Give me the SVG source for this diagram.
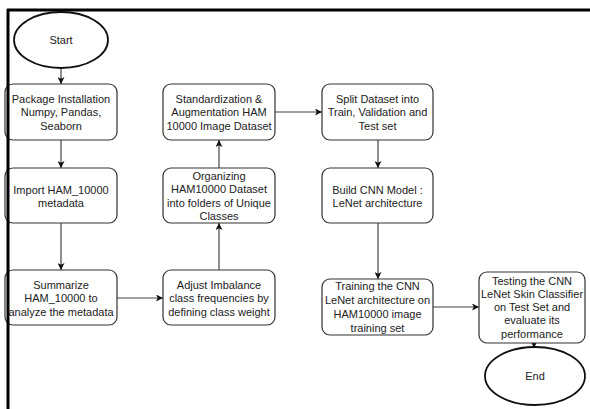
<svg xmlns="http://www.w3.org/2000/svg" width="590" height="409" viewBox="0 0 590 409">
<defs>
<style>
.box{fill:#fff;stroke:#333;stroke-width:1.2}
.term{fill:#fff;stroke:#111;stroke-width:1.8}
.t{font-family:"Liberation Sans",Arial,sans-serif;font-size:11px;fill:#222;text-anchor:middle}
.c{fill:none;stroke:#444;stroke-width:1.2}
</style>
<marker id="ah" viewBox="0 0 8 8" refX="8" refY="4" markerWidth="7" markerHeight="7" markerUnits="userSpaceOnUse" orient="auto">
<path d="M0,0 L8,4 L0,8 L2,4 Z" fill="#111"/>
</marker>
</defs>
<rect width="590" height="409" fill="#fff"/>
<g id="connectors">
<line class="c" x1="61" y1="68" x2="61" y2="84" marker-end="url(#ah)"/>
<line class="c" x1="61" y1="140" x2="61" y2="168" marker-end="url(#ah)"/>
<line class="c" x1="61" y1="223" x2="61" y2="270" marker-end="url(#ah)"/>
<line class="c" x1="117" y1="298" x2="163" y2="298" marker-end="url(#ah)"/>
<line class="c" x1="219" y1="270" x2="219" y2="223" marker-end="url(#ah)"/>
<line class="c" x1="219" y1="168" x2="219" y2="140" marker-end="url(#ah)"/>
<line class="c" x1="275" y1="112" x2="322" y2="112" marker-end="url(#ah)"/>
<line class="c" x1="378" y1="140" x2="378" y2="168" marker-end="url(#ah)"/>
<line class="c" x1="378" y1="223" x2="378" y2="279" marker-end="url(#ah)"/>
<line class="c" x1="433" y1="307" x2="479" y2="307" marker-end="url(#ah)"/>
<line class="c" x1="534" y1="343" x2="534" y2="348" marker-end="url(#ah)"/>
</g>
<g id="start">
<ellipse class="term" cx="61" cy="40" rx="47" ry="28"/>
<text class="t" x="61" y="44">Start</text>
</g>
<g id="package">
<rect class="box" x="5" y="84" width="112" height="56" rx="8"/>
<text class="t" x="61" y="103">Package Installation</text>
<text class="t" x="61" y="116">Numpy, Pandas,</text>
<text class="t" x="61" y="130">Seaborn</text>
</g>
<g id="import">
<rect class="box" x="5" y="168" width="112" height="55" rx="8"/>
<text class="t" x="61" y="194">Import HAM_10000</text>
<text class="t" x="61" y="207">metadata</text>
</g>
<g id="summarize">
<rect class="box" x="5" y="270" width="112" height="55" rx="8"/>
<text class="t" x="61" y="289">Summarize</text>
<text class="t" x="61" y="302">HAM_10000 to</text>
<text class="t" x="61" y="316">analyze the metadata</text>
</g>
<g id="adjust">
<rect class="box" x="163" y="270" width="112" height="55" rx="8"/>
<text class="t" x="219" y="289">Adjust Imbalance</text>
<text class="t" x="219" y="302">class frequencies by</text>
<text class="t" x="219" y="316">defining class weight</text>
</g>
<g id="organizing">
<rect class="box" x="163" y="168" width="112" height="55" rx="8"/>
<text class="t" x="219" y="180">Organizing</text>
<text class="t" x="219" y="193">HAM10000 Dataset</text>
<text class="t" x="219" y="207">into folders of Unique</text>
<text class="t" x="219" y="220">Classes</text>
</g>
<g id="standardization">
<rect class="box" x="163" y="84" width="112" height="56" rx="8"/>
<text class="t" x="219" y="103">Standardization &amp;</text>
<text class="t" x="219" y="116">Augmentation HAM</text>
<text class="t" x="219" y="130">10000 Image Dataset</text>
</g>
<g id="split">
<rect class="box" x="322" y="84" width="111" height="56" rx="8"/>
<text class="t" x="377.5" y="103">Split Dataset into</text>
<text class="t" x="377.5" y="116">Train, Validation and</text>
<text class="t" x="377.5" y="130">Test set</text>
</g>
<g id="build">
<rect class="box" x="322" y="168" width="111" height="55" rx="8"/>
<text class="t" x="377.5" y="194">Build CNN Model :</text>
<text class="t" x="377.5" y="207">LeNet architecture</text>
</g>
<g id="training">
<rect class="box" x="322" y="279" width="111" height="56" rx="8"/>
<text class="t" x="377.5" y="290">Training the CNN</text>
<text class="t" x="377.5" y="304">LeNet architecture on</text>
<text class="t" x="377.5" y="318">HAM10000 image</text>
<text class="t" x="377.5" y="332">training set</text>
</g>
<g id="testing">
<rect class="box" x="479" y="272" width="106" height="71" rx="8"/>
<text class="t" x="532" y="285">Testing the CNN</text>
<text class="t" x="532" y="298">LeNet Skin Classifier</text>
<text class="t" x="532" y="311">on Test Set and</text>
<text class="t" x="532" y="324">evaluate its</text>
<text class="t" x="532" y="338">performance</text>
</g>
<g id="end">
<ellipse class="term" cx="535" cy="376" rx="50" ry="29"/>
<text class="t" x="535" y="380">End</text>
</g>
<g id="frame">
<line x1="7" y1="10" x2="590" y2="10" stroke="#000" stroke-width="3"/>
<line x1="8" y1="9" x2="8" y2="409" stroke="#000" stroke-width="3"/>
</g>
</svg>
